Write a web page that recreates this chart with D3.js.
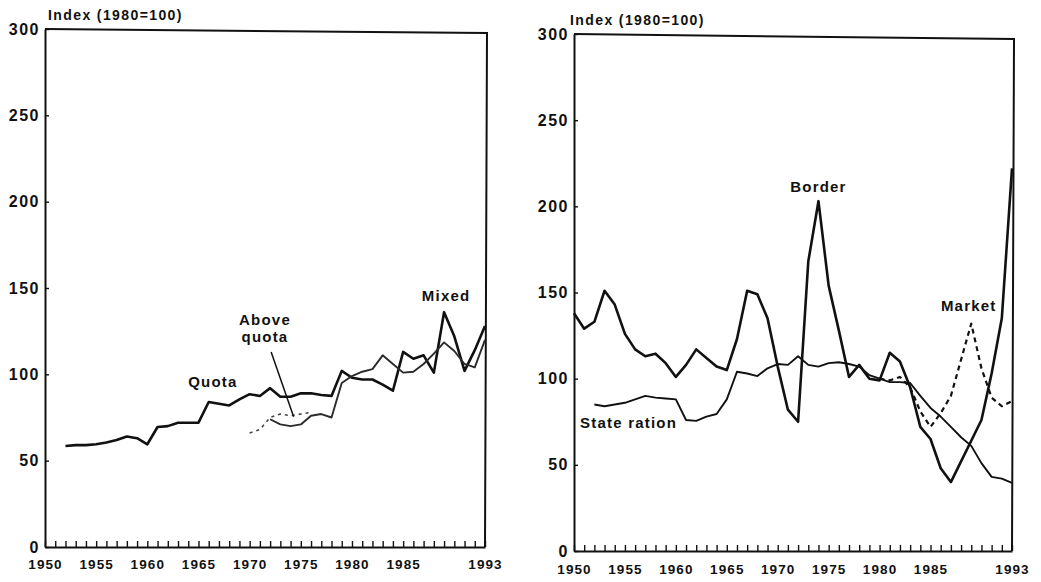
<!DOCTYPE html>
<html>
<head>
<meta charset="utf-8">
<script src="https://cdn.jsdelivr.net/npm/d3@7"></script>
<style>
  body { margin: 0; background: #fff; }
  svg text { font-family: "Liberation Sans", Arial, sans-serif; font-weight: bold; fill: #111; }
</style>
</head>
<body>
<svg id="chart" width="1041" height="582"></svg>
<script>
// years on the axis and the labelled ones
var axisYears = d3.range(1950, 1994);
var labelYears = [1950, 1955, 1960, 1965, 1970, 1975, 1980, 1985, 1993];
var yTicks = [0, 50, 100, 150, 200, 250, 300];

// left panel (index, 1980=100)
var quotaStart = 1952;
var quota = [58.5, 59, 59, 59.5, 60.5, 62, 64, 63, 59.5, 69.5, 70, 72, 72, 72, 84, 83, 82, 85.5, 88.5, 87.5,
             92, 87, 87, 89, 89, 88, 87.5, 102, 98, 97, 97, 94, 90.5, 113, 109, 111, 101, 136, 122, 102, 114, 128];
var aboveQuotaStart = 1970;
var aboveQuota = [66, 68, 75, 77, 76, 77, 78];
var mixedStart = 1972;
var mixed = [74, 71, 70, 71, 76, 77, 75, 95, 99, 101.5, 103, 111, 106, 101, 101.5, 106, 112, 118.5, 113.5, 106, 104, 120];

// right panel
var borderStart = 1950;
var border = [138, 129, 133, 151, 143, 126, 117, 113, 114.5, 109, 101, 108, 117, 112, 107, 105, 123, 151, 149, 135,
              107, 82, 75, 168, 203, 154, 128, 101, 108, 100, 99, 115, 110, 95, 72, 65, 48, 40, 52, 64, 76, 103, 135, 222];
var stateRationStart = 1952;
var stateRation = [85, 84, 85, 86, 88, 90, 89, 88.5, 88, 76, 75.5, 78, 79.5, 88, 104, 103, 101.5, 106, 108.5, 108,
                   113, 108, 107, 109, 109.5, 108.5, 107, 102, 100, 98, 98, 97.5, 90, 83, 78, 72, 66, 61, 51, 43, 42, 39.5];
var marketStart = 1980;
var market = [100, 99, 101, 95, 81, 72, 80, 90, 111, 132, 106, 89, 84, 87];

var svg = d3.select("#chart");
var ink = "#111";

function toPoints(start, vals) {
    return vals.map(function(v, i) { return [start + i, v]; });
}

function drawPanel(p) {
    var x = d3.scaleLinear().domain([1950, 1993]).range([p.left, p.right]);
    var y = d3.scaleLinear().domain([0, 300]).range([p.bottom, p.top]);
    var g = svg.append("g");

    // frame: top and right side (scan is a little skewed)
    g.append("path")
        .attr("d", "M" + x(1950) + "," + y(300) + "L" + (x(1993) + 2) + "," + (y(300) + p.skew) + "L" + x(1993) + "," + y(0))
        .attr("fill", "none").attr("stroke", ink).attr("stroke-width", 2);

    var xa = g.append("g")
        .attr("transform", "translate(0," + y(0) + ")")
        .call(d3.axisBottom(x).tickValues(axisYears).tickSizeInner(-6).tickSizeOuter(0)
            .tickFormat(function(d) { return labelYears.indexOf(d) >= 0 ? d : ""; }));
    xa.select(".domain").attr("stroke", ink).attr("stroke-width", 2);
    xa.selectAll(".tick line").attr("stroke", ink).attr("stroke-width", 1.4);
    xa.selectAll(".tick text").attr("y", p.xLabelY).attr("font-size", 13.5)
        .attr("letter-spacing", 1.1).attr("fill", ink);

    var ya = g.append("g")
        .attr("transform", "translate(" + x(1950) + ",0)")
        .call(d3.axisLeft(y).tickValues(yTicks).tickSizeInner(-4).tickSizeOuter(0).tickPadding(5));
    ya.select(".domain").attr("stroke", ink).attr("stroke-width", 2);
    ya.selectAll(".tick line").attr("stroke", ink).attr("stroke-width", 1.4);
    ya.selectAll(".tick text").attr("font-size", 16).attr("letter-spacing", 1.5).attr("fill", ink);

    g.append("text")
        .attr("x", p.titleX).attr("y", y(300) - 9)
        .attr("font-size", 14).attr("letter-spacing", 1.4)
        .text("Index (1980=100)");

    var line = d3.line()
        .x(function(d) { return x(d[0]); })
        .y(function(d) { return y(d[1]); });

    p.series.forEach(function(s) {
        g.append("path")
            .datum(toPoints(s.start, s.values))
            .attr("d", line)
            .attr("fill", "none")
            .attr("stroke", s.color || ink)
            .attr("stroke-width", s.width)
            .attr("stroke-dasharray", s.dash || null)
            .attr("stroke-linejoin", "round");
    });

    p.labels.forEach(function(l) {
        g.append("text")
            .attr("x", x(l.year)).attr("y", y(l.value))
            .attr("text-anchor", l.anchor || "start")
            .attr("font-size", 15).attr("letter-spacing", 1.2)
            .text(l.text);
    });

    (p.leaders || []).forEach(function(a) {
        g.append("line")
            .attr("x1", x(a[0])).attr("y1", y(a[1]))
            .attr("x2", x(a[2])).attr("y2", y(a[3]))
            .attr("stroke", ink).attr("stroke-width", 1.5);
    });
}

drawPanel({
    left: 45, right: 485, top: 29, bottom: 547, xLabelY: 12, titleX: 48, skew: 4,
    series: [
        { start: quotaStart, values: quota, width: 2.6 },
        { start: mixedStart, values: mixed, width: 1.9, color: "#2a2a2a" },
        { start: aboveQuotaStart, values: aboveQuota, width: 1.6, dash: "3,4", color: "#444" }
    ],
    labels: [
        { text: "Quota", year: 1964, value: 92.5 },
        { text: "Above", year: 1971.5, value: 128.5, anchor: "middle" },
        { text: "quota", year: 1971.5, value: 118.5, anchor: "middle" },
        { text: "Mixed", year: 1989.2, value: 142.5, anchor: "middle" }
    ],
    leaders: [[1972.1, 113, 1974.3, 75.5]]
});

drawPanel({
    left: 574, right: 1012, top: 34, bottom: 551, xLabelY: 13, titleX: 570, skew: 5,
    series: [
        { start: borderStart, values: border, width: 2.6 },
        { start: stateRationStart, values: stateRation, width: 1.9 },
        { start: marketStart, values: market, width: 2.2, dash: "5,4" }
    ],
    labels: [
        { text: "Border", year: 1974, value: 208.5, anchor: "middle" },
        { text: "Market", year: 1988.75, value: 139, anchor: "middle" },
        { text: "State ration", year: 1950.6, value: 71.3 }
    ]
});
</script>
</body>
</html>
